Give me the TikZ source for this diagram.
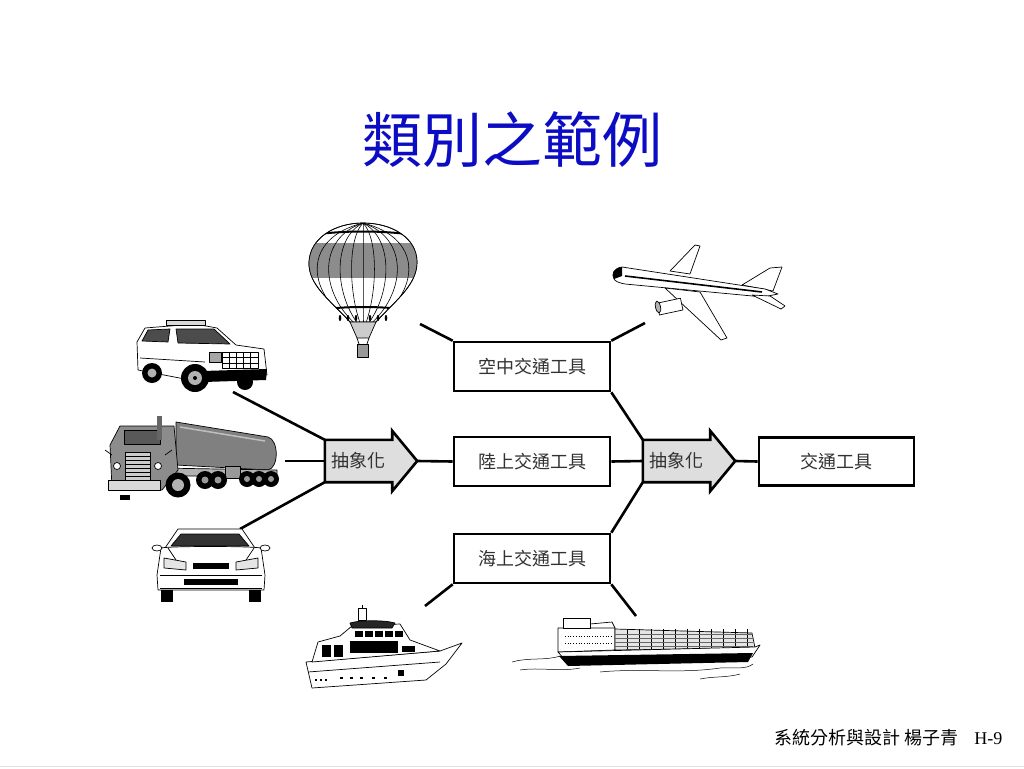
\documentclass[tikz,border=0pt]{standalone}
\usepackage{fontspec}
\newfontfamily\cjk{Noto Sans CJK TC}
\setmainfont{Liberation Serif}
\usetikzlibrary{calc}
\pgfdeclarelayer{background}
\pgfsetlayers{background,main}
\definecolor{titleblue}{RGB}{12,12,196}
\definecolor{boxtext}{RGB}{50,50,50}
\definecolor{arrowgray}{RGB}{222,222,222}
\tikzset{
  conn/.style={line width=2.6pt},
  catbox/.style={draw, line width=2.6pt, minimum width=156pt, minimum height=49pt, inner sep=0pt,
    font=\cjk\fontsize{18}{18}\selectfont, text=boxtext},
  absbody/.style={minimum width=67pt, minimum height=42pt, inner sep=0pt,
    font=\cjk\fontsize{18}{18}\selectfont, text=boxtext},
  arrowshape/.style={draw, fill=arrowgray, line width=2.6pt, line join=miter},
  art/.style={line width=0.7pt, line join=round},
}
\begin{document}
\begin{tikzpicture}[x=1pt,y=-1pt]
\useasboundingbox (0,0) rectangle (1024,768);
\begin{pgfonlayer}{background}
\fill[white] (0,0) rectangle (1024,768);
\end{pgfonlayer}
\draw[black!12, line width=1pt] (0,766) -- (1024,766);

% ---------- title and footer ----------
\node[text=titleblue, font=\cjk\fontsize{60}{60}\selectfont] (title) at (512,140) {類別之範例};
\node[anchor=east, font=\fontsize{18}{18}\selectfont] (footer) at (1006,738)
  {{\cjk 系統分析與設計 楊子青}\hspace{16pt}H-9};

% ---------- boxes ----------
\node[catbox] (air)  at (532,366.5) {空中交通工具};
\node[catbox] (land) at (532,461.5) {陸上交通工具};
\node[catbox] (sea)  at (532,558.5) {海上交通工具};
\node[catbox, minimum width=155pt, minimum height=48pt] (veh) at (836.5,461.5) {交通工具};

% ---------- abstraction arrows ----------
\node[absbody] (a1) at (358.5,461) {抽象化};
\node[absbody] (a2) at (676.5,461) {抽象化};
\begin{pgfonlayer}{background}
  \foreach \a in {a1,a2}{
    \draw[arrowshape] (\a.north west) -- (\a.north east) -- ($(\a.north east)+(0,-9)$)
      -- ($(\a.east)+(25,0)$) -- ($(\a.south east)+(0,9)$) -- (\a.south east)
      -- (\a.south west) -- cycle;
  }
\end{pgfonlayer}
\coordinate (a1tip) at ($(a1.east)+(25,0)$);
\coordinate (a2tip) at ($(a2.east)+(25,0)$);

% ---------- free ends near pictures ----------
\coordinate (suvpt) at (233,392);
\coordinate (truckpt) at (285,461);
\coordinate (carpt) at (240,529);
\coordinate (balloonpt) at (420,324);
\coordinate (planept) at (645,323);
\coordinate (yachtpt) at (425,606);
\coordinate (shippt) at (636,616);

% ---------- connectors ----------
\draw[conn] (suvpt) -- (a1.north west);
\draw[conn] (truckpt) -- (a1.west);
\draw[conn] (carpt) -- (a1.south west);
\draw[conn] (a1tip) -- (land.west);
\draw[conn] (balloonpt) -- (air.north west);
\draw[conn] (air.north east) -- (planept);
\draw[conn] (air.south east) -- (a2.north west);
\draw[conn] (land.east) -- (a2.west);
\draw[conn] (sea.north east) -- (a2.south west);
\draw[conn] (sea.south west) -- (yachtpt);
\draw[conn] (sea.south east) -- (shippt);
\draw[conn] (a2tip) -- (veh.west);

% ================= clip art =================
% ---- hot air balloon ----
\begin{scope}[art]
  \path[draw, fill=white] (350,322) .. controls (330,300) and (308,285) .. (309,262)
     .. controls (310,238) and (335,223) .. (363,223) .. controls (392,223) and (417,238) .. (417,262)
     .. controls (417,285) and (396,300) .. (376,322) -- cycle;
  \begin{scope}
    \clip (350,322) .. controls (330,300) and (308,285) .. (309,262)
     .. controls (310,238) and (335,223) .. (363,223) .. controls (392,223) and (417,238) .. (417,262)
     .. controls (417,285) and (396,300) .. (376,322) -- cycle;
    \fill[black!45] (300,243) rectangle (420,278);
    \foreach \r in {-48,-36,-24,-12,0,12,24,36,48}{
      \draw[line width=0.6pt] (363,223) .. controls ({363+\r*1.25},238) and ({363+\r*1.2},290) .. ({363+\r*0.27},322);
    }
    \draw[line width=2pt] (305,236) .. controls (340,230) and (386,230) .. (420,236);
    \draw[line width=2pt] (318,310) .. controls (345,306) and (381,306) .. (410,310);
  \end{scope}
  \draw (350,322) .. controls (330,300) and (308,285) .. (309,262)
     .. controls (310,238) and (335,223) .. (363,223) .. controls (392,223) and (417,238) .. (417,262)
     .. controls (417,285) and (396,300) .. (376,322);
  \path[draw, fill=black!20] (350,322) -- (376,322) -- (369,338) -- (357,338) -- cycle;
  \draw (357,338) -- (359,344) (369,338) -- (367,344);
  \path[draw, fill=black!40] (357,344) rectangle (368,357);
  \foreach \x in {340,348,356,370,378,386}{\fill (\x,318) ellipse (1.3pt and 3pt);}
\end{scope}

% ---- airplane ----
\begin{scope}[art]
  \path[draw, fill=white] (670,271) -- (695,245) -- (700,246) -- (690,274) -- cycle;
  \path[draw, fill=white] (742,285) -- (770,268) -- (782,267) -- (773,291) -- cycle;
  \path[draw, fill=white] (765,289) -- (622,267) .. controls (614,268) and (611,274) .. (614,279)
     .. controls (616,282) and (620,283) .. (625,284) -- (763,297) -- (778,294) -- cycle;
  \fill (622,267) .. controls (614,268) and (611,274) .. (614,279) -- (622,276) -- cycle;
  \draw[line width=1.6pt] (625,276) -- (762,292);
  \path[draw, fill=white] (752,295) -- (781,309) -- (785,306) -- (770,296) -- cycle;
  \path[draw, fill=white] (665,288) -- (721,340) -- (727,338) -- (700,292) -- cycle;
  \path[draw, fill=white, rotate around={12:(668,307)}] (658,301) rectangle (682,313);
  \draw[fill=black!30, rotate around={12:(658,307)}] (658,307) ellipse (2.5pt and 6pt);
\end{scope}

% ---- SUV ----
\begin{scope}[art]
  \path[draw, fill=white] (137,342) -- (145,328) -- (195,324) -- (217,328) -- (236,345)
     -- (264,349) -- (267,375) -- (190,380) -- (138,370) -- cycle;
  \path[draw, fill=black!15] (166,320) rectangle (205,325);
  \path[draw, fill=black!70] (148,330) -- (170,329) -- (168,342) -- (142,341) -- cycle;
  \path[draw, fill=black!70] (176,329) -- (214,329) -- (230,344) -- (178,343) -- cycle;
  \path[draw, fill=white] (222,352) rectangle (258,368);
  \foreach \x in {229,236,243,250}{\draw (\x,352) -- (\x,368);}
  \draw (222,357.5) -- (258,357.5) (222,363) -- (258,363);
  \path[draw, fill=black!35] (209,352) rectangle (221,362);
  \fill (203,371) -- (267,369) -- (266,380) -- (204,382) -- cycle;
  \draw (140,358) -- (205,362);
  \fill (245,382) circle (8pt);
  \fill (152,373) circle (10pt); \fill[black!30] (152,373) circle (4.5pt);
  \fill (195,378) circle (14pt); \fill[black!30] (195,378) circle (7pt); \fill (195,378) circle (2pt);
\end{scope}

% ---- tanker truck ----
\begin{scope}[art]
  \path[draw, fill=black!50] (176,422) -- (268,437) .. controls (279,440) and (279,468) .. (268,470)
     -- (176,465) -- cycle;
  \draw[black!25, line width=1.5pt] (180,427) -- (265,441);
  \path[draw, fill=black!30] (160,468) -- (277,470) -- (277,476) -- (160,476) -- cycle;
  \path[draw, fill=black!40] (225,466) rectangle (240,478);
  \path[draw, fill=black!45] (120,426) -- (174,426) -- (178,470) -- (162,490) -- (112,488) -- (110,445) -- cycle;
  \path[draw, fill=black!65] (124,430) rectangle (160,444);
  \path[draw, fill=black!20] (125,452) rectangle (150,480);
  \foreach \y in {456,460,464,468,472,476}{\draw (125,\y) -- (150,\y);}
  \path[draw, fill=black!15] (108,480) rectangle (160,490);
  \fill[black!60] (157,416) rectangle (162,440);
  \draw[fill=white] (117,466) circle (3.5pt); \draw[fill=white] (158,466) circle (3.5pt);
  \draw (112,455) -- (105,450) (165,455) -- (172,450);
  \foreach \x in {247,259,271}{\fill (\x,479) circle (8pt); \fill[black!40] (\x,479) circle (3pt);}
  \foreach \x in {205,218}{\fill (\x,480) circle (9pt); \fill[black!40] (\x,480) circle (3.5pt);}
  \fill (178,485) circle (12.5pt); \fill[black!30] (178,485) circle (6pt);
  \fill (120,495) rectangle (130,500);
\end{scope}

% ---- car front ----
\begin{scope}[art]
  \path[draw, fill=white] (178,529) -- (242,529) -- (255,548) -- (165,548) -- cycle;
  \path[draw, fill=black!80] (181,534) -- (239,534) -- (249,546) -- (171,546) -- cycle;
  \path[draw, fill=white] (161,548) .. controls (170,546) and (250,546) .. (261,548)
     -- (265,575) -- (264,590) -- (158,590) -- (157,575) -- cycle;
  \path[draw, fill=black!10] (164,558) -- (186,562) -- (186,570) -- (164,568) -- cycle;
  \path[draw, fill=black!10] (258,558) -- (236,562) -- (236,570) -- (258,568) -- cycle;
  \fill (193,563) rectangle (229,569);
  \draw (160,575) -- (262,575) (160,588) -- (262,588);
  \fill (184,579) rectangle (238,585);
  \fill (161,590) rectangle (173,602); \fill (249,590) rectangle (261,602);
  \draw[fill=white] (157,548) ellipse (5pt and 3pt); \draw[fill=white] (265,548) ellipse (5pt and 3pt);
  \draw (168,548) -- (176,560) (254,548) -- (246,560);
\end{scope}

% ---- yacht ----
\begin{scope}[art]
  \path[draw, fill=white] (306,662) -- (440,651) -- (462,643) -- (446,664) -- (426,680) -- (312,688) -- cycle;
  \path[draw, fill=white] (312,662) -- (318,642) -- (340,636) -- (352,626) -- (400,624)
     -- (410,640) -- (440,651) -- cycle;
  \path[draw, fill=black!85] (350,623) .. controls (360,620) and (385,620) .. (395,623) -- (392,628) -- (352,628) -- cycle;
  \path[draw, fill=white] (358,608) rectangle (366,620);
  \draw (362,605) -- (362,608);
  \foreach \x in {355,365,375,385,395}{\fill (\x,631) rectangle ++(8,6);}
  \foreach \x in {322,334}{\fill (\x,645) rectangle ++(9,12);}
  \fill (350,641) rectangle (398,653);
  \fill (402,646) rectangle (415,652);
  \draw (308,672) -- (440,662);
  \foreach \x in {315,320,325}{\fill (\x,679) rectangle ++(2,2);}
  \foreach \x in {340,350,360,372,384}{\fill (\x,677) rectangle ++(3,2);}
  \fill (398,670) rectangle ++(6,6);
\end{scope}

% ---- container ship ----
\begin{scope}[art]
  \path[draw, fill=white] (558,628) -- (615,628) -- (615,650) -- (558,652) -- cycle;
  \path[draw, fill=white] (563,618) rectangle (590,628);
  \draw (590,624) -- (612,622) -- (615,628);
  \path[draw, fill=black!10] (615,629) -- (752,633) -- (755,648) -- (615,650) -- cycle;
  \foreach \x in {627,639,651,663,675,687,699,711,723,735,747}{\draw[line width=0.4pt] (\x,629) -- (\x,649);}
  \foreach \y in {634,638,642,646}{\draw[line width=0.3pt, black!60] (615,\y) -- (753,\y);}
  \path[draw, fill=white] (558,652) -- (755,647) -- (760,645) -- (752,657) -- (565,660) -- cycle;
  \fill (559,656) -- (753,653) -- (748,662) -- (568,666) -- cycle;
  \draw[dotted] (565,636) -- (612,636) (565,643) -- (612,643);
  \draw[line width=0.5pt] (512,662) .. controls (530,657) and (545,661) .. (560,656);
  \draw[line width=0.5pt] (520,670) .. controls (540,667) and (560,672) .. (580,668);
  \draw[line width=0.5pt] (600,672) .. controls (640,668) and (680,674) .. (720,668) .. controls (735,667) and (745,670) .. (753,664);
  \draw[line width=0.5pt] (700,679) .. controls (715,676) and (725,678) .. (740,674);
\end{scope}
\end{tikzpicture}
\end{document}
